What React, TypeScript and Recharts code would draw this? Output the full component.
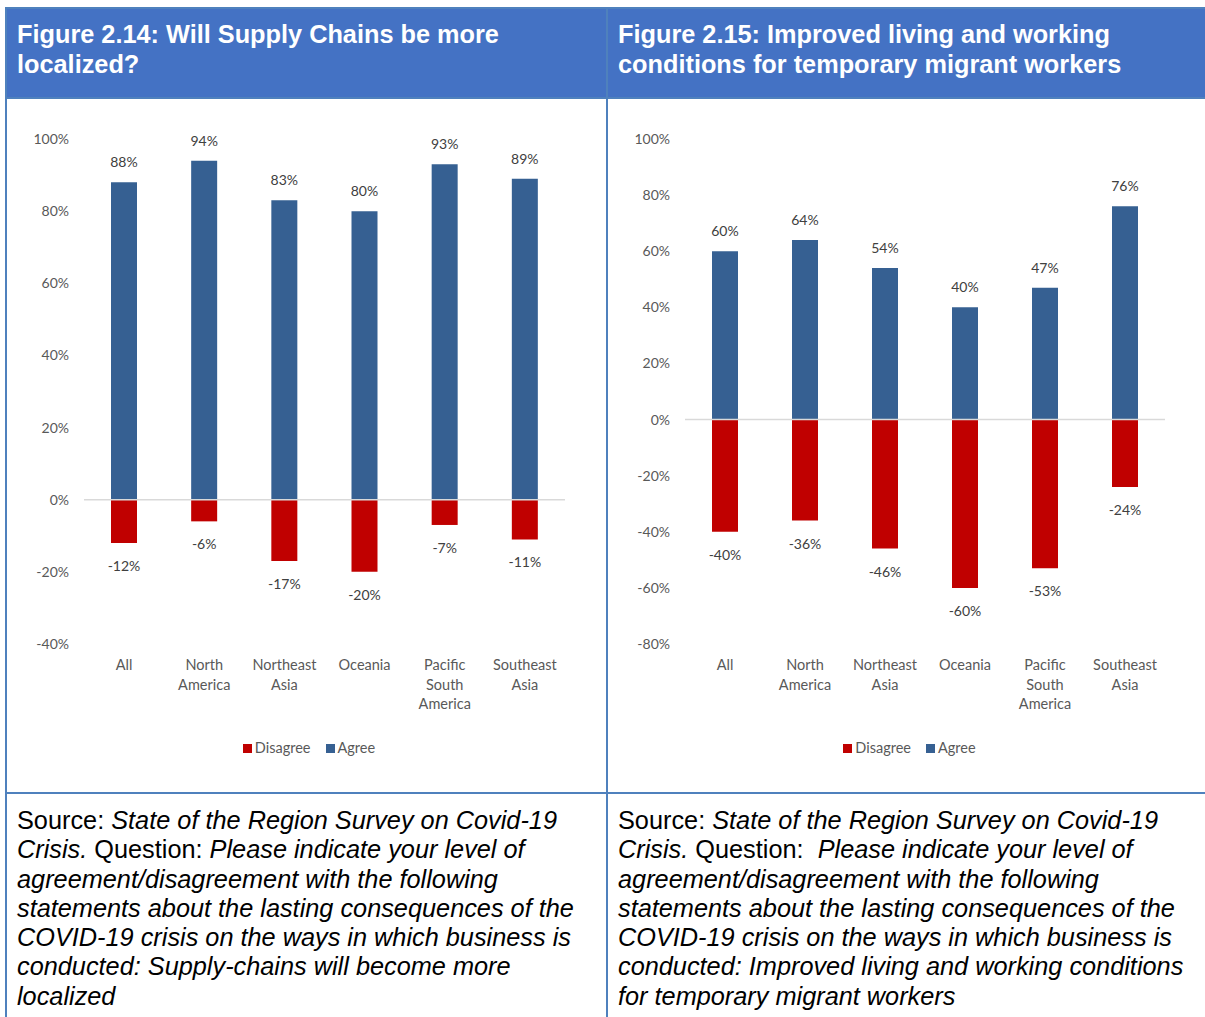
import { BarChart, Bar, XAxis, YAxis, ReferenceLine, Legend, LabelList } from 'recharts';

const regions = ['All', 'North America', 'Northeast Asia', 'Oceania', 'Pacific South America', 'Southeast Asia'];

const supplyAgree = [88, 94, 83, 80, 93, 89];
const supplyDisagree = [-12, -6, -17, -20, -7, -11];
const supplyTicks = [-40, -20, 0, 20, 40, 60, 80, 100];

const migrantAgree = [60, 64, 54, 40, 47, 76];
const migrantDisagree = [-40, -36, -46, -60, -53, -24];
const migrantTicks = [-80, -60, -40, -20, 0, 20, 40, 60, 80, 100];

const AGREE = '#366092';
const DISAGREE = '#C00000';
const BORDER = '#4F81BD';
const HEADER = '#4472C4';
const FONT = 'Lato, "Open Sans", sans-serif';

function CategoryTick({ x, y, payload }: any) {
  const words = String(payload.value).split(' ');
  return (
    <text x={x} y={y} textAnchor="middle" fill="#595959" fontSize={14.5} fontFamily={FONT}>
      {words.map((w, i) => (
        <tspan key={i} x={x} dy={i === 0 ? 18 : 19.5}>{w}</tspan>
      ))}
    </text>
  );
}

function ValueLabel({ x, y, width, height, value }: any) {
  const top = Math.min(y, y + height);
  const bottom = Math.max(y, y + height);
  const ty = value >= 0 ? top - 20 : bottom + 23;
  return (
    <text x={x + width / 2} y={ty} dy={5} textAnchor="middle" fill="#404040" fontSize={14} fontFamily={FONT}>
      {value}%
    </text>
  );
}

function LegendBox() {
  const items = [
    { name: 'Disagree', color: DISAGREE },
    { name: 'Agree', color: AGREE },
  ];
  return (
    <div style={{ display: 'flex', justifyContent: 'center', gap: 15, paddingLeft: 46, fontFamily: FONT, fontSize: 14.5, color: '#595959', lineHeight: '16px' }}>
      {items.map(it => (
        <span key={it.name} style={{ display: 'flex', alignItems: 'center' }}>
          <span style={{ width: 9, height: 9, background: it.color, display: 'inline-block', marginRight: 3 }} />
          {it.name}
        </span>
      ))}
    </div>
  );
}

function SurveyChart({ agree, disagree, ticks, width }: { agree: number[]; disagree: number[]; ticks: number[]; width: number }) {
  const data = regions.map((name, i) => ({ name, Disagree: disagree[i], Agree: agree[i] }));
  return (
    <BarChart width={width} height={692} data={data} stackOffset="sign" margin={{ top: 39, right: 40, bottom: 36, left: 0 }}>
      <XAxis dataKey="name" axisLine={false} tickLine={false} tick={<CategoryTick />} height={96} interval={0} />
      <YAxis
        domain={[ticks[0], ticks[ticks.length - 1]]}
        ticks={ticks}
        width={77}
        axisLine={false}
        tickLine={false}
        tickMargin={9}
        tickFormatter={(v) => `${v}%`}
        tick={{ fill: '#595959', fontSize: 14, fontFamily: FONT }}
      />
      <ReferenceLine y={0} stroke="#D9D9D9" strokeWidth={1.5} />
      <Bar dataKey="Disagree" stackId="a" fill={DISAGREE} barSize={26} isAnimationActive={false}>
        <LabelList dataKey="Disagree" content={<ValueLabel />} />
      </Bar>
      <Bar dataKey="Agree" stackId="a" fill={AGREE} barSize={26} isAnimationActive={false}>
        <LabelList dataKey="Agree" content={<ValueLabel />} />
      </Bar>
      <Legend verticalAlign="bottom" content={<LegendBox />} />
    </BarChart>
  );
}

const headerStyle: React.CSSProperties = {
  background: HEADER,
  color: '#fff',
  fontFamily: '"Liberation Sans", Arial, sans-serif',
  fontWeight: 'bold',
  fontSize: 25.3,
  lineHeight: '29.5px',
  padding: '11px 10px 0 10px',
  boxSizing: 'border-box',
};

const sourceStyle: React.CSSProperties = {
  fontFamily: '"Liberation Sans", Arial, sans-serif',
  fontSize: 25.3,
  lineHeight: '29.3px',
  color: '#000',
  padding: '12px 10px 0 10px',
  boxSizing: 'border-box',
};

export default function App() {
  return (
    <div style={{ position: 'absolute', left: 0, top: 0, width: 1205, height: 1017, overflow: 'hidden', background: '#fff' }}>
      {/* outer frame */}
      <div style={{ position: 'absolute', left: 5, top: 7, width: 1210, height: 1020, border: `2px solid ${BORDER}`, boxSizing: 'border-box' }} />
      <div style={{ position: 'absolute', left: 606, top: 7, width: 2, height: 1020, background: BORDER }} />
      <div style={{ position: 'absolute', left: 5, top: 97, width: 1210, height: 2, background: BORDER }} />
      <div style={{ position: 'absolute', left: 5, top: 792, width: 1210, height: 2, background: BORDER }} />

      <div style={{ ...headerStyle, position: 'absolute', left: 7, top: 9, width: 599, height: 88 }}>
        Figure 2.14: Will Supply Chains be more<br />localized?
      </div>
      <div style={{ ...headerStyle, position: 'absolute', left: 608, top: 9, width: 597, height: 88 }}>
        Figure 2.15: Improved living and working<br />conditions for temporary migrant workers
      </div>

      <div style={{ position: 'absolute', left: 7, top: 100 }}>
        <SurveyChart agree={supplyAgree} disagree={supplyDisagree} ticks={supplyTicks} width={598} />
      </div>
      <div style={{ position: 'absolute', left: 608, top: 100 }}>
        <SurveyChart agree={migrantAgree} disagree={migrantDisagree} ticks={migrantTicks} width={597} />
      </div>

      <div style={{ ...sourceStyle, position: 'absolute', left: 7, top: 794, width: 599 }}>
        Source: <i>State of the Region Survey on Covid-19</i><br />
        <i>Crisis.</i> Question: <i>Please indicate your level of</i><br />
        <i>agreement/disagreement with the following</i><br />
        <i>statements about the lasting consequences of the</i><br />
        <i>COVID-19 crisis on the ways in which business is</i><br />
        <i>conducted: Supply-chains will become more</i><br />
        <i>localized</i>
      </div>
      <div style={{ ...sourceStyle, position: 'absolute', left: 608, top: 794, width: 597 }}>
        Source: <i>State of the Region Survey on Covid-19</i><br />
        <i>Crisis.</i> Question:&nbsp; <i>Please indicate your level of</i><br />
        <i>agreement/disagreement with the following</i><br />
        <i>statements about the lasting consequences of the</i><br />
        <i>COVID-19 crisis on the ways in which business is</i><br />
        <i>conducted: Improved living and working conditions</i><br />
        <i>for temporary migrant workers</i>
      </div>
    </div>
  );
}
